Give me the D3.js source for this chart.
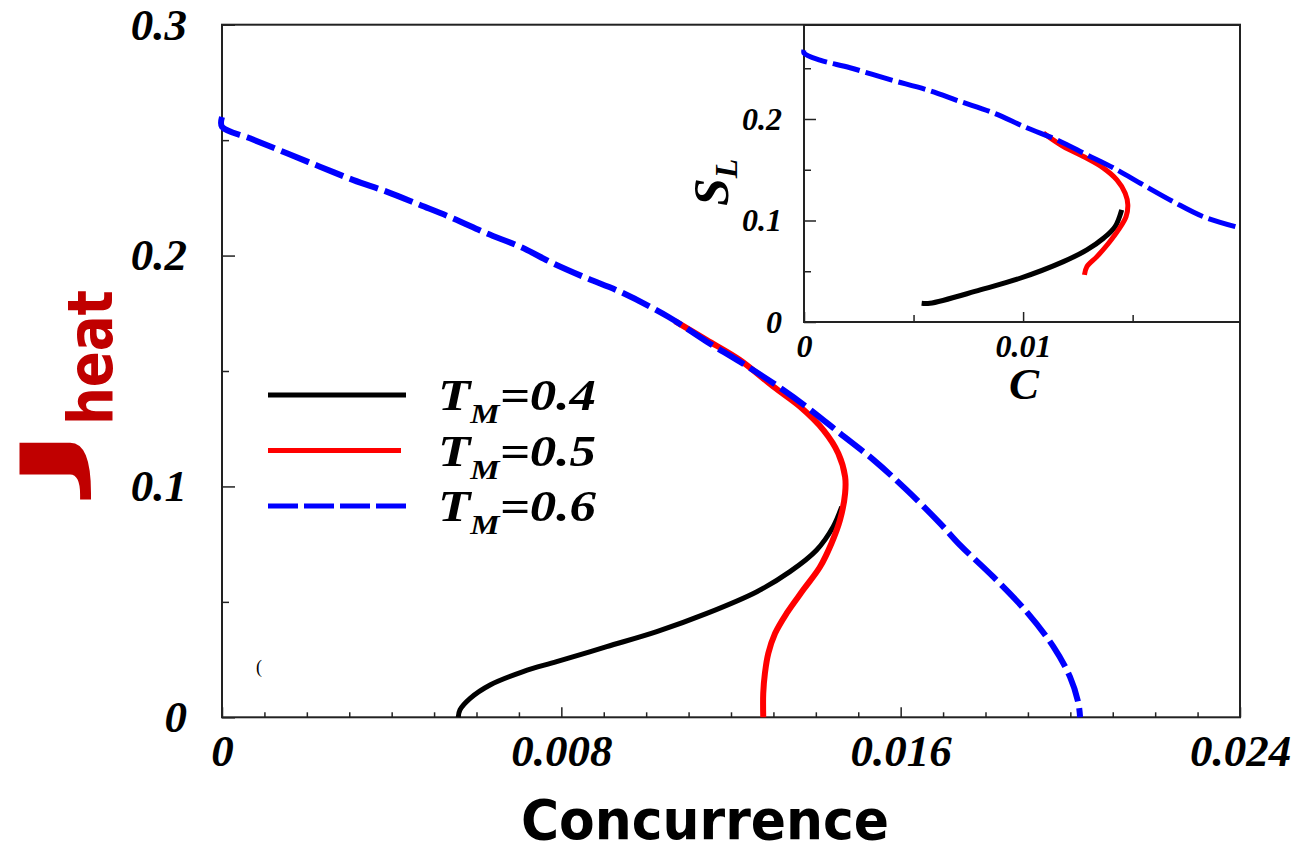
<!DOCTYPE html>
<html>
<head>
<meta charset="utf-8">
<script src="https://cdn.jsdelivr.net/npm/d3@7"></script>
<style>
  body { margin: 0; background: #fff; }
  .tick text { font-family: "Liberation Serif", "Times New Roman", serif; font-weight: bold; font-style: italic; fill: #000; }
  .tick line { stroke: #222; stroke-width: 1.5; }
</style>
</head>
<body>
<svg></svg>
<script>
// Main chart data: [Concurrence, J_heat]
var mainTm04 = [[0.00557, 0], [0.00561, 0.0032], [0.00585, 0.0082], [0.00632, 0.0140], [0.00710, 0.0198],
  [0.00789, 0.0241], [0.00907, 0.0306], [0.01025, 0.0371], [0.01143, 0.0450], [0.01261, 0.0544],
  [0.01339, 0.0631], [0.01402, 0.0725], [0.01441, 0.0826], [0.01461, 0.0912]];
var mainTm05 = [[0.01068, 0.1716], [0.01143, 0.1634], [0.01221, 0.1548], [0.01300, 0.1432], [0.01363, 0.1345],
  [0.01418, 0.1244], [0.01453, 0.1143], [0.01469, 0.1042], [0.01469, 0.0970], [0.01457, 0.0855],
  [0.01437, 0.0754], [0.01410, 0.0652], [0.01370, 0.0551], [0.01331, 0.0450], [0.01304, 0.0364],
  [0.01288, 0.0277], [0.01280, 0.0191], [0.01276, 0.0104], [0.01276, 0]];
var mainTm06 = [[0, 0.2600], [0, 0.2558], [0.00066, 0.2508], [0.00153, 0.2443], [0.00231, 0.2385], [0.00310, 0.2327],
  [0.00388, 0.2277], [0.00467, 0.2219], [0.00545, 0.2161], [0.00624, 0.2096], [0.00703, 0.2038],
  [0.00781, 0.1966], [0.00860, 0.1902], [0.00939, 0.1843], [0.01052, 0.1735], [0.01143, 0.1627],
  [0.01221, 0.1540], [0.01300, 0.1447], [0.01378, 0.1345], [0.01457, 0.1230], [0.01536, 0.1115],
  [0.01614, 0.0985], [0.01693, 0.0840], [0.01740, 0.0746], [0.01818, 0.0609], [0.01897, 0.0457],
  [0.01960, 0.0306], [0.01999, 0.0176], [0.02019, 0.0061], [0.02023, 0]];

// Inset data: [C, S_L]
var insetTm04 = [[0.00537, 0.0184], [0.00575, 0.0184], [0.00804, 0.0316], [0.00986, 0.0431], [0.01184, 0.0595],
  [0.01291, 0.0710], [0.01367, 0.0825], [0.01420, 0.0940], [0.01450, 0.1105]];
var insetTm05 = [[0.01093, 0.1861], [0.01184, 0.1729], [0.01275, 0.1630], [0.01367, 0.1516], [0.01428, 0.1400],
  [0.01466, 0.1269], [0.01478, 0.1154], [0.01470, 0.1038], [0.01435, 0.0907], [0.01390, 0.0776],
  [0.01337, 0.0644], [0.01291, 0.0545], [0.01280, 0.0464]];
var insetTm06 = [[0, 0.2680], [0, 0.2650], [0.00073, 0.2580], [0.00210, 0.2505], [0.00393, 0.2387], [0.00560, 0.2288],
  [0.00712, 0.2173], [0.00863, 0.2061], [0.01017, 0.1913], [0.01154, 0.1795], [0.01291, 0.1647],
  [0.01411, 0.1519], [0.01548, 0.1351], [0.01685, 0.1186], [0.01822, 0.1038], [0.01990, 0.0927]];

var legendValues = ["=0.4", "=0.5", "=0.6"];
var seriesColors = ["#000000", "#ff0000", "#0000ff"];

var xTicks = [0, 0.008, 0.016, 0.024];
var xTickLabels = ["0", "0.008", "0.016", "0.024"];
var yTicks = [0, 0.1, 0.2, 0.3];
var yTickLabels = ["0", "0.1", "0.2", "0.3"];
var yMinor = [0.05, 0.15, 0.25];
var inXTicks = [0, 0.01];
var inXTickLabels = ["0", "0.01"];
var inXMinor = [0.005, 0.015];
var inYTicks = [0, 0.1, 0.2];
var inYTickLabels = ["0", "0.1", "0.2"];
var inYMinor = [0.05, 0.15, 0.25];

// Set up
var svgWidth = 1301;
var svgHeight = 852;

var svg = d3.select("svg")
    .attr("width", svgWidth)
    .attr("height", svgHeight);

var xScale = d3.scaleLinear().domain([0, 0.024]).range([222, 1240]);
var yScale = d3.scaleLinear().domain([0, 0.3]).range([717.3, 24.7]);

var xMinor = d3.range(1, 24).filter(k => k % 8 !== 0).map(k => k / 1000);

function labelFrom(ticks, labels) {
  return d => labels[ticks.indexOf(d)];
}

// main axes
svg.append("g")
    .attr("transform", `translate(0, ${yScale(0)})`)
    .call(d3.axisBottom(xScale).tickValues(xMinor).tickSizeInner(-5).tickSizeOuter(0).tickFormat(""))
    .call(g => g.select(".domain").remove());
svg.append("g")
    .attr("transform", `translate(0, ${yScale(0)})`)
    .call(d3.axisBottom(xScale).tickValues(xTicks).tickSizeInner(-10).tickSizeOuter(0)
      .tickPadding(17).tickFormat(labelFrom(xTicks, xTickLabels)))
    .call(g => g.select(".domain").remove())
    .selectAll("text").style("font-size", "45px");

svg.append("g")
    .attr("transform", `translate(${xScale(0)}, 0)`)
    .call(d3.axisLeft(yScale).tickValues(yMinor).tickSizeInner(-7).tickSizeOuter(0).tickFormat(""))
    .call(g => g.select(".domain").remove());
svg.append("g")
    .attr("transform", `translate(${xScale(0)}, 0)`)
    .call(d3.axisLeft(yScale).tickValues(yTicks).tickSizeInner(-13).tickSizeOuter(0)
      .tickPadding(35).tickFormat(labelFrom(yTicks, yTickLabels)))
    .call(g => g.select(".domain").remove())
    .selectAll("text").style("font-size", "45px");

svg.append("rect")
    .attr("x", xScale(0)).attr("y", yScale(0.3))
    .attr("width", xScale(0.024) - xScale(0)).attr("height", yScale(0) - yScale(0.3))
    .attr("fill", "none").attr("stroke", "#222").attr("stroke-width", 2);

// curves
var line = d3.line()
    .x(d => xScale(d[0]))
    .y(d => yScale(d[1]))
    .curve(d3.curveCatmullRom.alpha(0.5));

svg.append("path").datum(mainTm04).attr("d", line)
    .attr("fill", "none").attr("stroke", seriesColors[0]).attr("stroke-width", 5);
svg.append("path").datum(mainTm05).attr("d", line)
    .attr("fill", "none").attr("stroke", seriesColors[1]).attr("stroke-width", 6);
svg.append("path").datum(mainTm06).attr("d", line)
    .attr("fill", "none").attr("stroke", seriesColors[2]).attr("stroke-width", 6)
    .attr("stroke-dasharray", "30,7");

// stray mark
svg.append("text").attr("x", 256).attr("y", 673)
    .style("font-family", "Liberation Serif, serif").style("font-size", "18px").text("(");

// legend
var legend = svg.append("g");
legendValues.forEach(function(v, i) {
  var ly = 395 + i * 55.5;
  legend.append("line")
      .attr("x1", 268).attr("x2", i === 1 ? 401 : 406)
      .attr("y1", ly).attr("y2", ly)
      .attr("stroke", seriesColors[i]).attr("stroke-width", 5)
      .attr("stroke-dasharray", i === 2 ? "30,6" : null);
  var t = legend.append("text")
      .attr("x", 438).attr("y", ly + 15)
      .attr("textLength", 158).attr("lengthAdjust", "spacingAndGlyphs")
      .style("font-family", "Liberation Serif, Times New Roman, serif")
      .style("font-weight", "bold").style("font-style", "italic")
      .style("font-size", "45px");
  t.append("tspan").text("T");
  t.append("tspan").attr("dy", 13).style("font-size", "28px").text("M");
  t.append("tspan").attr("dy", -13).text(v);
});

// axis titles
svg.append("text")
    .attr("x", 521).attr("y", 839)
    .attr("textLength", 368).attr("lengthAdjust", "spacingAndGlyphs")
    .style("font-family", "Comic Sans MS, DejaVu Sans, sans-serif")
    .style("font-weight", "bold").style("font-size", "56px")
    .text("Concurrence");

svg.append("text")
    .attr("transform", "translate(76,490) rotate(-90)")
    .attr("textLength", 63).attr("lengthAdjust", "spacingAndGlyphs")
    .style("font-family", "Comic Sans MS, DejaVu Sans, sans-serif")
    .style("font-weight", "bold").style("font-size", "76px")
    .attr("fill", "#c00000")
    .text("J");
svg.append("text")
    .attr("transform", "translate(112,425) rotate(-90)")
    .attr("textLength", 135).attr("lengthAdjust", "spacingAndGlyphs")
    .style("font-family", "Comic Sans MS, DejaVu Sans, sans-serif")
    .style("font-weight", "bold").style("font-size", "62px")
    .attr("fill", "#c00000")
    .text("heat");

// inset
var xIn = d3.scaleLinear().domain([0, 0.0199]).range([804, 1240]);
var yIn = d3.scaleLinear().domain([0, 0.2926]).range([322, 25]);

svg.append("rect")
    .attr("x", xIn(0)).attr("y", yIn(0.2926))
    .attr("width", xIn(0.0199) - xIn(0)).attr("height", yIn(0) - yIn(0.2926))
    .attr("fill", "#fff");

svg.append("g")
    .attr("transform", `translate(0, ${yIn(0)})`)
    .call(d3.axisBottom(xIn).tickValues(inXMinor).tickSizeInner(-7).tickSizeOuter(0).tickFormat(""))
    .call(g => g.select(".domain").remove());
svg.append("g")
    .attr("transform", `translate(0, ${yIn(0)})`)
    .call(d3.axisBottom(xIn).tickValues(inXTicks).tickSizeInner(-10).tickSizeOuter(0)
      .tickPadding(12).tickFormat(labelFrom(inXTicks, inXTickLabels)))
    .call(g => g.select(".domain").remove())
    .selectAll("text").style("font-size", "32px");
svg.append("g")
    .attr("transform", `translate(${xIn(0)}, 0)`)
    .call(d3.axisLeft(yIn).tickValues(inYMinor).tickSizeInner(-7).tickSizeOuter(0).tickFormat(""))
    .call(g => g.select(".domain").remove());
svg.append("g")
    .attr("transform", `translate(${xIn(0)}, 0)`)
    .call(d3.axisLeft(yIn).tickValues(inYTicks).tickSizeInner(-12).tickSizeOuter(0)
      .tickPadding(22).tickFormat(labelFrom(inYTicks, inYTickLabels)))
    .call(g => g.select(".domain").remove())
    .selectAll("text").style("font-size", "32px");

svg.append("rect")
    .attr("x", xIn(0)).attr("y", yIn(0.2926))
    .attr("width", xIn(0.0199) - xIn(0)).attr("height", yIn(0) - yIn(0.2926))
    .attr("fill", "none").attr("stroke", "#222").attr("stroke-width", 2);

var lineIn = d3.line()
    .x(d => xIn(d[0]))
    .y(d => yIn(d[1]))
    .curve(d3.curveCatmullRom.alpha(0.5));

svg.append("path").datum(insetTm04).attr("d", lineIn)
    .attr("fill", "none").attr("stroke", seriesColors[0]).attr("stroke-width", 5);
svg.append("path").datum(insetTm05).attr("d", lineIn)
    .attr("fill", "none").attr("stroke", seriesColors[1]).attr("stroke-width", 5);
svg.append("path").datum(insetTm06).attr("d", lineIn)
    .attr("fill", "none").attr("stroke", seriesColors[2]).attr("stroke-width", 5)
    .attr("stroke-dasharray", "28,6");

svg.append("text")
    .attr("x", 1024).attr("y", 399).attr("text-anchor", "middle")
    .style("font-family", "Liberation Serif, Times New Roman, serif")
    .style("font-weight", "bold").style("font-style", "italic").style("font-size", "45px")
    .text("C");

var sl = svg.append("text")
    .attr("transform", "translate(728,206) rotate(-90)")
    .style("font-family", "Liberation Serif, Times New Roman, serif")
    .style("font-weight", "bold").style("font-style", "italic").style("font-size", "50px");
sl.append("tspan").text("S");
sl.append("tspan").attr("dy", 9).style("font-size", "32px").text("L");
</script>
</body>
</html>
